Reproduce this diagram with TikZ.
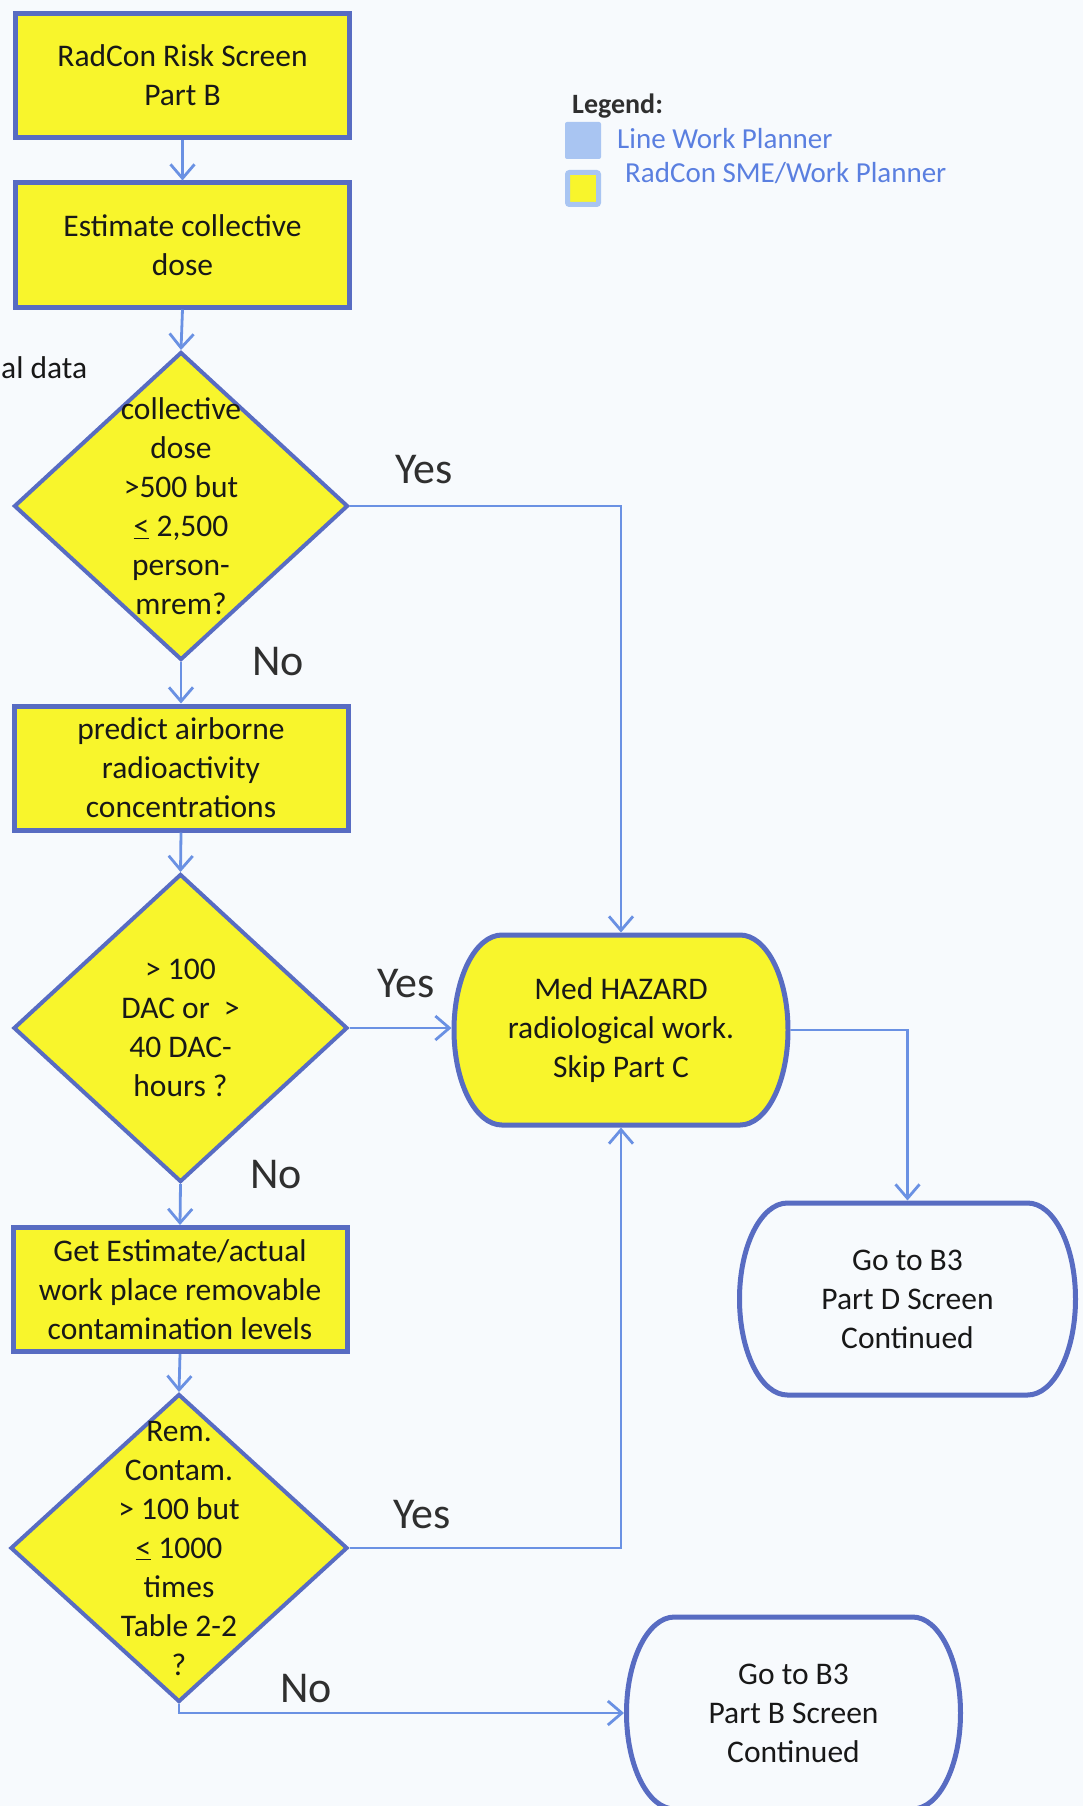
\documentclass[tikz,border=0pt]{standalone}
\usepackage{fontspec}
\setmainfont{Carlito}
\usetikzlibrary{shapes.geometric, arrows.meta}

\definecolor{pagebg}{HTML}{F7FAFD}
\definecolor{boxline}{HTML}{586CC2}
\definecolor{flowline}{HTML}{6A91E3}
\definecolor{boxfill}{HTML}{F8F52C}
\definecolor{inktext}{HTML}{181818}
\definecolor{legendtext}{HTML}{5A7FE0}
\definecolor{legendblue}{HTML}{A9C5F2}

\tikzset{
  stepbox/.style={rectangle, draw=boxline, line width=5pt, fill=boxfill,
    minimum width=334pt, minimum height=124pt, inner sep=0pt},
  boxtext/.style={font=\fontsize{31.5}{39}\selectfont, text=inktext, align=center},
  decision/.style={diamond, draw=boxline, line width=4pt, fill=boxfill,
    minimum width=334pt, minimum height=308pt, inner sep=0pt},
  qtext/.style={boxtext, inner sep=0pt},
  termline/.style={draw=boxline, line width=5pt},
  termnode/.style={rectangle, inner sep=0pt, outer sep=2.5pt},
  flow/.style={draw=flowline, line width=2.8pt,
    -{Straight Barb[length=14pt, width=24pt]}},
  answer/.style={font=\fontsize{44}{50}\selectfont, text=inktext!90,
    anchor=base west, inner sep=0pt},
  legendentry/.style={font=\fontsize{29}{34}\selectfont, text=legendtext,
    anchor=base west, inner sep=0pt},
}

% terminal with elliptical ends: name, cx, cy, width, height, fill, text
\newcommand\termshape[7]{%
  \pgfmathsetmacro\termhalfw{#4/2}%
  \pgfmathsetmacro\termhalfh{#5/2}%
  \filldraw[termline, fill=#6]
    (#2-\termhalfw+48, #3-\termhalfh) -- (#2+\termhalfw-48, #3-\termhalfh)
    arc[start angle=90, end angle=-90, x radius=48pt, y radius=\termhalfh pt]
    -- (#2-\termhalfw+48, #3+\termhalfh)
    arc[start angle=270, end angle=90, x radius=48pt, y radius=\termhalfh pt]
    -- cycle;
  \node[termnode, boxtext, minimum width=#4pt, minimum height=#5pt] (#1) at (#2,#3) {#7};
}

\begin{document}
\begin{tikzpicture}[x=1pt, y=-1pt]
\useasboundingbox (0,0) rectangle (1083,1806);
\clip (0,0) rectangle (1083,1806);
\fill[pagebg] (0,0) rectangle (1083,1806);

% left column
\node[stepbox, boxtext] (b1) at (182.5,75.5) {RadCon Risk Screen\\Part B};
\node[stepbox, boxtext] (b2) at (182.5,245) {Estimate collective\\dose};
\node[decision] (q1) at (181,506) {};
\node[qtext] (q1t) at (q1) {collective\\dose\\>500 but\\\underline{<} 2,500\\person-\\mrem?};
\node[stepbox, boxtext] (b3) at (181,768) {predict airborne\\radioactivity\\concentrations};
\node[decision] (q2) at (180.5,1028) {};
\node[qtext] (q2t) at (q2) {> 100\\DAC or~ >\\40 DAC-\\hours ?};
\node[stepbox, boxtext] (b4) at (180,1289.5) {Get Estimate/actual\\work place removable\\contamination levels};
\node[decision, minimum width=337pt] (q3) at (179,1548) {};
\node[qtext] (q3t) at (q3) {Rem.\\Contam.\\> 100 but\\\underline{<} 1000\\times\\Table 2-2\\?};

% cut-off note at the left edge
\node[boxtext, anchor=base west, inner sep=0pt] (cutnote) at (1,378) {al data};

% terminals
\termshape{med}{621}{1030}{334}{190}{boxfill}{Med HAZARD\\radiological work.\\Skip Part C}
\termshape{god}{907.5}{1299}{336}{192}{pagebg}{Go to B3\\Part D Screen\\Continued}
\termshape{gob}{793.5}{1713}{334}{192}{pagebg}{Go to B3\\Part B Screen\\Continued}

% connectors
\draw[flow] (b1.south) -- (b2.north);
\draw[flow] (b2.south) -- (q1.north);
\draw[flow] (q1.east) -| (med.north);
\draw[flow] (q1.south) -- (b3.north);
\draw[flow] (b3.south) -- (q2.north);
\draw[flow] (q2.east) -- (q2.east -| med.west);
\draw[flow] (q2.south) -- (b4.north);
\draw[flow] (b4.south) -- (q3.north);
\draw[flow] (q3.east) -| (med.south);
\draw[flow] (q3.south) |- (gob.west);
\draw[flow] (med.east) -| (god.north);

% branch labels
\node[answer] (yes1) at (395,483) {Yes};
\node[answer] (no1) at (252,675) {No};
\node[answer] (yes2) at (377,997) {Yes};
\node[answer] (no2) at (250,1188) {No};
\node[answer] (yes3) at (393,1528) {Yes};
\node[answer] (no3) at (280,1702) {No};

% legend
\node[font=\bfseries\fontsize{28}{32}\selectfont, text=inktext!90, anchor=base west,
  inner sep=0pt] (legtitle) at (572,114) {Legend:};
\node[fill=legendblue, rounded corners=2pt, minimum width=36pt, minimum height=37pt,
  inner sep=0pt] (legblue) at (583,140.5) {};
\node[fill=boxfill, draw=legendblue, line width=5pt, rounded corners=2pt,
  minimum width=31pt, minimum height=32pt, inner sep=0pt] (legyellow) at (583,188.5) {};
\node[legendentry] (leg1) at (617,149) {Line Work Planner};
\node[legendentry] (leg2) at (625,183) {RadCon SME/Work Planner};
\end{tikzpicture}
\end{document}
